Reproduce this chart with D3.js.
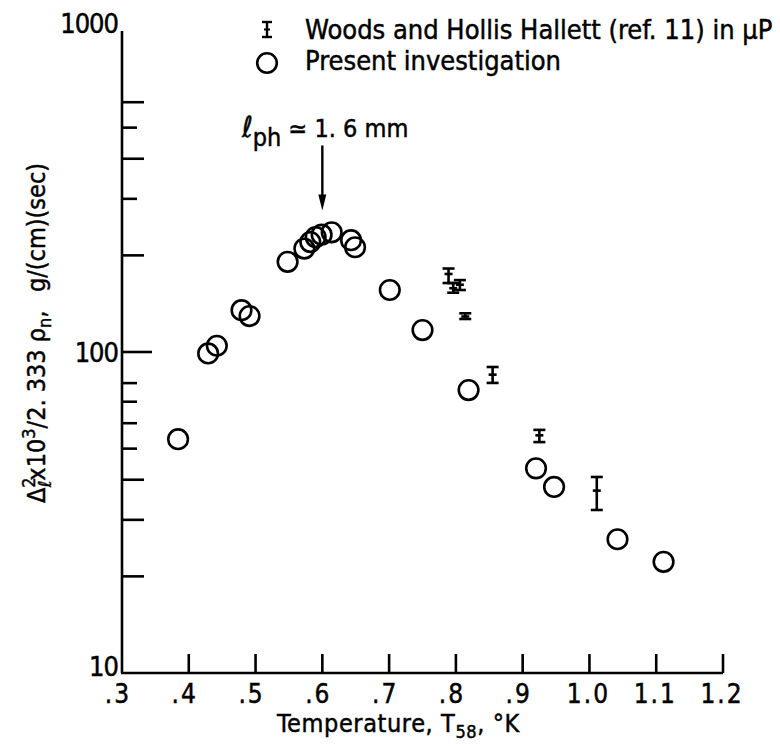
<!DOCTYPE html>
<html>
<head>
<meta charset="utf-8">
<script src="https://cdn.jsdelivr.net/npm/d3@7"></script>
<style>
  body { margin: 0; background: #fff; }
  svg { display: block; }
  text { font-family: "DejaVu Sans Condensed", "Liberation Sans Narrow", "Liberation Sans", sans-serif; fill: #000; stroke: #000; stroke-width: 0.45px; }
</style>
</head>
<body>
<svg id="chart" width="780" height="746"></svg>
<script>
// ---- Data ----
// Present investigation (open circles)
const presentT = [0.384, 0.429, 0.442, 0.479, 0.491, 0.548, 0.573, 0.582, 0.590, 0.599, 0.614, 0.643, 0.649, 0.701, 0.750, 0.819, 0.920, 0.947, 1.042, 1.111];
const presentV = [53.5, 99, 104.6, 135, 129.4, 191, 210, 220, 228, 232, 236, 223, 212, 156, 117, 76.1, 43.4, 38.0, 26.1, 22.2];

// Woods and Hollis Hallett (ref. 11), error bars
const woodsT  = [0.789, 0.796, 0.806, 0.814, 0.855, 0.925, 1.011];
const woodsV  = [175, 158, 162, 129, 85, 55, 37];
const woodsLo = [164, 153, 156, 126.7, 80.1, 52.4, 32.2];
const woodsHi = [182, 164, 167.5, 132, 89.8, 57.2, 40.8];

// Axis ticks
const xTicks = [0.4, 0.5, 0.6, 0.7, 0.8, 0.9, 1.0, 1.1, 1.2];
const xTickLabels = [".3", ".4", ".5", ".6", ".7", ".8", ".9", "1.0", "1.1", "1.2"];
const xLabelValues = [0.3, 0.4, 0.5, 0.6, 0.7, 0.8, 0.9, 1.0, 1.1, 1.2];
const yLabelValues = [10, 100, 1000];
const yTickLabels = ["10", "100", "1000"];
const yMinorLong = [20, 30, 40, 200, 400, 600];
const yMinorShort = [50, 60, 70, 80, 300, 500];

// Annotation: arrow at l_ph = 1.6 mm
const arrowT = 0.6;
const arrowFrom = 440;
const arrowTo = 276;

// ---- Chart ----
const svg = d3.select("#chart");
svg.append("rect").attr("width", 780).attr("height", 746).attr("fill", "#fff");

const x = d3.scaleLinear().domain([0.3, 1.2]).range([122, 723]);
const y = d3.scaleLog().domain([10, 1000]).range([673, 31]);

const g = svg.append("g");
const axisStroke = 2.6;

// axis lines
g.append("line").attr("x1", x(0.3)).attr("x2", x(0.3)).attr("y1", y(1000)).attr("y2", y(10))
  .attr("stroke", "#000").attr("stroke-width", axisStroke);
g.append("line").attr("x1", x(0.3) - 1).attr("x2", x(1.2)).attr("y1", y(10)).attr("y2", y(10))
  .attr("stroke", "#000").attr("stroke-width", axisStroke);

// x ticks (inward, upward)
g.selectAll(".xt").data(xTicks).join("line")
  .attr("x1", d => x(d)).attr("x2", d => x(d))
  .attr("y1", y(10)).attr("y2", y(10) - 19)
  .attr("stroke", "#000").attr("stroke-width", axisStroke);

// x labels
g.selectAll(".xl").data(xLabelValues).join("text")
  .attr("x", d => x(d)).attr("y", 703)
  .attr("text-anchor", "middle")
  .attr("dx", (d, i) => xTickLabels[i].startsWith(".") ? -4 : -1)
  .attr("font-size", 26)
  .attr("letter-spacing", 2)
  .text((d, i) => xTickLabels[i]);

// y ticks (inward, rightward)
g.selectAll(".ytl").data(yMinorLong).join("line")
  .attr("x1", x(0.3)).attr("x2", x(0.3) + 22)
  .attr("y1", d => y(d)).attr("y2", d => y(d))
  .attr("stroke", "#000").attr("stroke-width", axisStroke);
g.selectAll(".yts").data(yMinorShort).join("line")
  .attr("x1", x(0.3)).attr("x2", x(0.3) + 15)
  .attr("y1", d => y(d)).attr("y2", d => y(d))
  .attr("stroke", "#000").attr("stroke-width", axisStroke);
g.append("line").attr("x1", x(0.3)).attr("x2", x(0.3) + 30)
  .attr("y1", y(100)).attr("y2", y(100))
  .attr("stroke", "#000").attr("stroke-width", axisStroke);

// y labels
g.selectAll(".yl").data(yLabelValues).join("text")
  .attr("x", x(0.3) - 4)
  .attr("y", d => y(d))
  .attr("dy", d => d === 1000 ? 2 : (d === 10 ? 3 : 10))
  .attr("text-anchor", "end")
  .attr("font-size", 27)
  .attr("letter-spacing", -1)
  .text((d, i) => yTickLabels[i]);

// y axis title (rotated)
const yt = svg.append("text")
  .attr("transform", "translate(45,333) rotate(-90)")
  .attr("text-anchor", "middle")
  .attr("font-size", 25);
yt.append("tspan").text("Δ");
yt.append("tspan").attr("font-size", 18).attr("dy", -10).text("2");
yt.append("tspan").attr("font-size", 18).attr("dx", -10).attr("dy", 16).text("ℓ");
yt.append("tspan").attr("dy", -6).text("x10");
yt.append("tspan").attr("font-size", 18).attr("dy", -10).text("3");
yt.append("tspan").attr("dy", 10).text("/2. 333 ρ");
yt.append("tspan").attr("font-size", 18).attr("dy", 6).text("n");
yt.append("tspan").attr("dy", -6).text(",\u2002 g/(cm)(sec)");

// x axis title
const xtt = svg.append("text").attr("x", 277).attr("y", 732).attr("font-size", 25).attr("letter-spacing", 0.6);
xtt.append("tspan").text("Temperature,  T");
xtt.append("tspan").attr("font-size", 18).attr("dy", 6).text("58");
xtt.append("tspan").attr("dy", -6).text(",  °K");

// Woods error bars
const capW = 6, midW = 4;
const wg = g.append("g").attr("stroke", "#000").attr("stroke-width", 2.6);
woodsT.forEach((t, i) => {
  const cx = x(t);
  wg.append("line").attr("x1", cx).attr("x2", cx).attr("y1", y(woodsHi[i])).attr("y2", y(woodsLo[i]));
  wg.append("line").attr("x1", cx - capW).attr("x2", cx + capW).attr("y1", y(woodsHi[i])).attr("y2", y(woodsHi[i]));
  wg.append("line").attr("x1", cx - capW).attr("x2", cx + capW).attr("y1", y(woodsLo[i])).attr("y2", y(woodsLo[i]));
  wg.append("line").attr("x1", cx - midW).attr("x2", cx + midW).attr("y1", y(woodsV[i])).attr("y2", y(woodsV[i]));
});

// Present circles
g.selectAll(".pc").data(presentT).join("circle")
  .attr("cx", d => x(d))
  .attr("cy", (d, i) => y(presentV[i]))
  .attr("r", 9.8)
  .attr("fill", "none")
  .attr("stroke", "#000")
  .attr("stroke-width", 2.6);

// Arrow annotation
const ax = x(arrowT);
g.append("line").attr("x1", ax).attr("x2", ax).attr("y1", y(arrowFrom)).attr("y2", y(arrowTo) - 12)
  .attr("stroke", "#000").attr("stroke-width", 2.4);
g.append("path")
  .attr("d", `M${ax - 4},${y(arrowTo) - 16} L${ax + 4},${y(arrowTo) - 16} L${ax},${y(arrowTo)} Z`)
  .attr("fill", "#000");

const an = svg.append("text").attr("x", 242).attr("y", 137).attr("font-size", 25);
an.append("tspan").attr("font-size", 29).attr("font-style", "italic").text("ℓ");
an.append("tspan").attr("dy", 9).attr("font-size", 25).text("ph");
an.append("tspan").attr("dy", -9).text(" ≃ 1. 6 mm");

// Legend
const lg = svg.append("g");
const lx = 267;
lg.append("line").attr("x1", lx).attr("x2", lx).attr("y1", 22).attr("y2", 37).attr("stroke", "#000").attr("stroke-width", 2.4);
lg.append("line").attr("x1", lx - 5).attr("x2", lx + 5).attr("y1", 22).attr("y2", 22).attr("stroke", "#000").attr("stroke-width", 2.4);
lg.append("line").attr("x1", lx - 5).attr("x2", lx + 5).attr("y1", 37).attr("y2", 37).attr("stroke", "#000").attr("stroke-width", 2.4);
lg.append("line").attr("x1", lx - 3).attr("x2", lx + 3).attr("y1", 29.5).attr("y2", 29.5).attr("stroke", "#000").attr("stroke-width", 2);
lg.append("circle").attr("cx", lx).attr("cy", 63).attr("r", 9.8).attr("fill", "none").attr("stroke", "#000").attr("stroke-width", 2.6);
lg.append("text").attr("x", 305).attr("y", 39).attr("font-size", 27).text("Woods and Hollis Hallett (ref. 11) in μP");
lg.append("text").attr("x", 305).attr("y", 70).attr("font-size", 27).text("Present investigation");
</script>
</body>
</html>
